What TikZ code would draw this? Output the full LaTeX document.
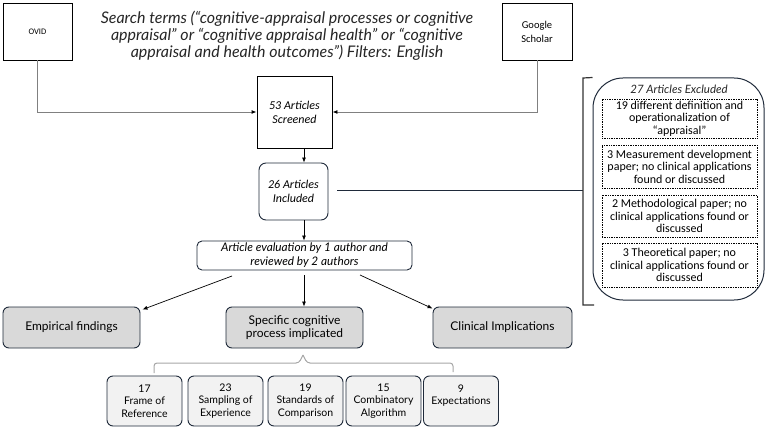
\documentclass[tikz,border=0pt]{standalone}
\usepackage{fontspec}
\setmainfont{Carlito}
\newfontfamily\aptos{Lato}
\usetikzlibrary{arrows.meta}
\definecolor{navy}{HTML}{1F2A3A}
\definecolor{midgray}{HTML}{D9D9D9}
\definecolor{lightgray}{HTML}{F2F2F2}
\definecolor{linegray}{HTML}{808080}
\definecolor{bracegray}{HTML}{A6A6A6}
\definecolor{txt}{HTML}{262626}
\tikzset{
  sqbox/.style={draw=black, line width=0.9pt, minimum width=#1, inner sep=1pt, align=center},
  rbox/.style={draw=navy, line width=0.9pt, rounded corners=7pt, align=center, inner sep=1pt},
  graybox/.style={draw=navy, line width=0.9pt, rounded corners=6pt, fill=midgray, align=center,
    minimum width=137pt, minimum height=41pt, inner sep=1pt, font=\aptos\fontsize{12}{13.5}\selectfont},
  smallbox/.style={draw=navy, line width=0.9pt, rounded corners=6pt, fill=lightgray, align=center,
    minimum width=75pt, minimum height=50pt, inner sep=1pt, font=\aptos\fontsize{10.5}{12.3}\selectfont},
  dotbox/.style={draw=black, line width=0.7pt, dash pattern=on 0.8pt off 0.9pt, minimum width=155pt, align=center, inner sep=1pt,
    font=\fontsize{12}{12.6}\selectfont},
  arr/.style={-{Latex[length=5pt,width=4pt]}, line width=0.7pt, black},
  garr/.style={-{Latex[length=5pt,width=4pt,color=black]}, line width=0.9pt, linegray},
}
\begin{document}
\begin{tikzpicture}[x=1pt,y=-1pt]
\useasboundingbox (0,0) rectangle (767,430);
% top boxes
\node[sqbox=69pt, minimum height=57pt, font=\fontsize{8.5}{14}\selectfont] (ovid) at (37.5,31.5) {OVID};
\node[sqbox=70pt, minimum height=57pt, font=\fontsize{10.5}{14}\selectfont] (google) at (537,31.5) {Google\\Scholar};
\node[align=center, text=txt, font=\aptos\itshape\fontsize{16}{17}\selectfont] (title) at (287,36)
  {Search terms (“cognitive-appraisal processes or cognitive\\appraisal” or “cognitive appraisal health” or “cognitive\\appraisal and health outcomes”) Filters: English};
\node[sqbox=75pt, minimum height=72pt, font=\itshape\fontsize{12}{14}\selectfont] (screened) at (294.5,112) {53 Articles\\Screened};
\node[rbox, minimum width=69pt, minimum height=57pt, font=\itshape\fontsize{12}{14}\selectfont] (included) at (293.5,191.5) {26 Articles\\Included};
\node[rbox, rounded corners=5pt, minimum width=215pt, minimum height=29pt, font=\aptos\itshape\fontsize{11.8}{14}\selectfont] (eval) at (304.5,255.5) {Article evaluation by 1 author and\\reviewed by 2 authors};
% middle row
\node[graybox] (emp) at (71.5,327.5) {Empirical findings};
\node[graybox] (spec) at (294.5,327.5) {Specific cognitive\\process implicated};
\node[graybox, minimum width=139pt] (clin) at (502.5,327.5) {Clinical Implications};
% bottom row
\node[smallbox] (b1) at (144.5,401) {17\\Frame of\\Reference};
\node[smallbox] (b2) at (225.5,401) {23\\Sampling of\\Experience};
\node[smallbox] (b3) at (305.5,401) {19\\Standards of\\Comparison};
\node[smallbox] (b4) at (383.5,401) {15\\Combinatory\\Algorithm};
\node[smallbox] (b5) at (461,401) {9\\Expectations\\~};
% excluded panel
\node[draw=navy, line width=1pt, rounded corners=30pt, minimum width=171pt, minimum height=222pt] (excl) at (678.5,189) {};
\node[font=\aptos\itshape\fontsize{11.5}{14}\selectfont, text=txt] (exclt) at (679,89) {27 Articles Excluded};
\node[dotbox, minimum height=39pt] (d1) at (679.5,118.5) {19 different definition and\\operationalization of\\“appraisal”};
\node[dotbox, minimum height=43pt] (d2) at (679.5,166.5) {3 Measurement development\\paper; no clinical applications\\found or discussed};
\node[dotbox, minimum height=42pt] (d3) at (679.5,216) {2 Methodological paper; no\\clinical applications found or\\discussed};
\node[dotbox, minimum height=44pt] (d4) at (679.5,265) {3 Theoretical paper; no\\clinical applications found or\\discussed};
% coordinates
\coordinate (ax) at (304,0);
\coordinate (brtop) at (583,78);
\coordinate (brbot) at (583,305);
\coordinate (inclout) at (337,191);
\coordinate (brmid) at (583,191);
% connectors
\draw[garr] (ovid.south) |- (screened.west);
\draw[garr] (google.south) |- (screened.east);
\draw[arr] (screened.south -| ax) -- (included.north -| ax);
\draw[arr] (included.south -| ax) -- (eval.north -| ax);
\draw[line width=1pt, navy] (inclout) -- (brmid);
\draw[line width=1.2pt, black!80] (excl.north west) -- (brtop) -- (brbot) -- ++(11,0);
\coordinate (e1) at (232,276);
\coordinate (e2) at (304,275);
\coordinate (e3) at (360,275);
\draw[arr] (e1) -- ([shift={(2,3)}]emp.north east);
\draw[arr] (e2) -- (spec.north -| e2);
\draw[arr] (e3) -- ([shift={(0,2)}]clin.north west);
% brace
\coordinate (bl) at (154,373);
\coordinate (br) at (453,372);
\coordinate (bm) at (303,355);
\draw[bracegray, line width=1pt, rounded corners=3pt] (bl) -- (154,363) -- (299,363) -- (bm);
\draw[bracegray, line width=1pt, rounded corners=3pt] (bm) -- (307,363) -- (453,363) -- (br);
\end{tikzpicture}
\end{document}
